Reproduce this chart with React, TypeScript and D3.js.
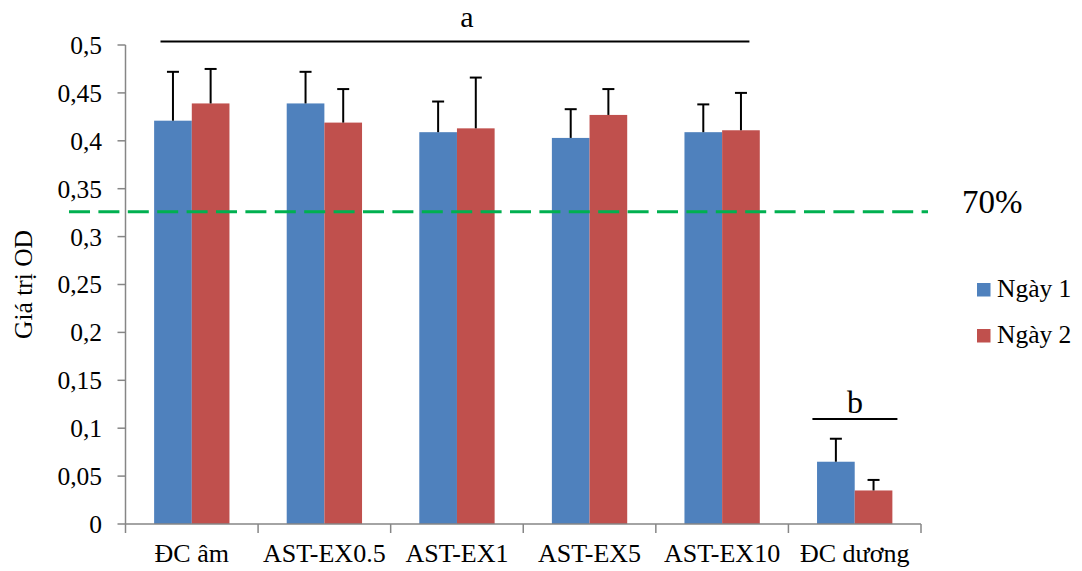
import React from 'react';
import * as d3 from 'd3';

// nhóm thí nghiệm
const categories = ['ĐC âm', 'AST-EX0.5', 'AST-EX1', 'AST-EX5', 'AST-EX10', 'ĐC dương'];
const seriesNames = ['Ngày 1', 'Ngày 2'];
const day1 = [0.421, 0.439, 0.409, 0.403, 0.409, 0.065];
const day2 = [0.439, 0.419, 0.413, 0.427, 0.411, 0.035];
const day1Err = [0.051, 0.033, 0.032, 0.030, 0.029, 0.024];
const day2Err = [0.036, 0.035, 0.053, 0.027, 0.039, 0.011];
const yTicks = [0, 0.05, 0.1, 0.15, 0.2, 0.25, 0.3, 0.35, 0.4, 0.45, 0.5];
const thresholdValue = 0.326;
const colors = ['#4F81BD', '#C0504D'];

const FONT = '"Liberation Serif", "Times New Roman", serif';

const App = () => {
  const width = 1082;
  const height = 571;
  const left = 125.5;
  const right = 921;
  const top = 45;
  const bottom = 524;

  const x = d3.scaleBand<string>().domain(categories).range([left, right]).padding(0);
  const xSub = d3.scaleBand<string>().domain(seriesNames).range([0, x.bandwidth()])
    .paddingInner(0).paddingOuter(0.76);
  const y = d3.scaleLinear().domain([0, 0.5]).range([bottom, top]);

  const values = [day1, day2];
  const errs = [day1Err, day2Err];
  const fmt = (v: number) => String(+v.toFixed(2)).replace('.', ',');

  const bars: React.ReactNode[] = [];
  const errBars: React.ReactNode[] = [];
  seriesNames.forEach((s, si) => {
    categories.forEach((c, ci) => {
      const v = values[si][ci];
      const bx = (x(c) as number) + (xSub(s) as number);
      const bw = xSub.bandwidth();
      bars.push(
        <rect key={`b${si}-${ci}`} x={bx} y={y(v)} width={bw} height={bottom - y(v)} fill={colors[si]} />
      );
      const cx = bx + bw / 2;
      const ey = y(v + errs[si][ci]);
      errBars.push(
        <g key={`e${si}-${ci}`} stroke="#000" strokeWidth={2}>
          <line x1={cx} x2={cx} y1={y(v)} y2={ey} />
          <line x1={cx - 6} x2={cx + 6} y1={ey} y2={ey} />
        </g>
      );
    });
  });

  const boundaries = [...categories.map((c) => x(c) as number), right];

  // nhóm ý nghĩa thống kê
  const aStart = (x(categories[0]) as number) + 35;
  const aEnd = (x(categories[4]) as number) + x.bandwidth() - 39;
  const bStart = (x(categories[5]) as number) + 24;
  const bEnd = (x(categories[5]) as number) + 109;

  return (
    <svg width={width} height={height} style={{ position: 'absolute', left: 0, top: 0 }}
      fontFamily={FONT}>
      <rect width={width} height={height} fill="#fff" />

      {/* trục Y */}
      <line x1={left} x2={left} y1={top} y2={bottom} stroke="#868686" strokeWidth={1.5} />
      {yTicks.map((t) => (
        <g key={t}>
          <line x1={left - 8} x2={left} y1={y(t)} y2={y(t)} stroke="#868686" strokeWidth={1.5} />
          <text x={102} y={y(t)} dy="0.35em" textAnchor="end" fontSize={25.5} fill="#000">{fmt(t)}</text>
        </g>
      ))}

      {bars}

      {/* trục X */}
      <line x1={left} x2={right} y1={bottom} y2={bottom} stroke="#868686" strokeWidth={1.5} />
      {boundaries.map((bx, i) => (
        <line key={i} x1={bx} x2={bx} y1={bottom} y2={bottom + 9} stroke="#868686" strokeWidth={1.5} />
      ))}
      {categories.map((c) => (
        <text key={c} x={(x(c) as number) + x.bandwidth() / 2} y={562} textAnchor="middle"
          fontSize={26} fill="#000">{c}</text>
      ))}

      {errBars}

      {/* đường 70% */}
      <line x1={69} x2={928} y1={y(thresholdValue)} y2={y(thresholdValue)} stroke="#00B050"
        strokeWidth={3} strokeDasharray="21 8.4" />
      <text x={962} y={213} fontSize={33} fill="#000">70%</text>

      {/* a, b */}
      <line x1={aStart} x2={aEnd} y1={41.5} y2={41.5} stroke="#000" strokeWidth={2} />
      <text x={(aStart + aEnd) / 2 + 12} y={27} textAnchor="middle" fontSize={30} fill="#000">a</text>
      <line x1={bStart} x2={bEnd} y1={419} y2={419} stroke="#000" strokeWidth={2} />
      <text x={(bStart + bEnd) / 2} y={413} textAnchor="middle" fontSize={32} fill="#000">b</text>

      {/* nhãn trục Y */}
      <text transform={`translate(32, ${(top + bottom) / 2}) rotate(-90)`} textAnchor="middle"
        fontSize={25.5} fill="#000">Giá trị OD</text>

      {/* chú giải */}
      {seriesNames.map((s, i) => (
        <g key={s} transform={`translate(977, ${283 + i * 46})`}>
          <rect width={13.5} height={13.5} fill={colors[i]} />
          <text x={20} y={13.5} fontSize={25.5} fill="#000">{s}</text>
        </g>
      ))}
    </svg>
  );
};

export default App;
